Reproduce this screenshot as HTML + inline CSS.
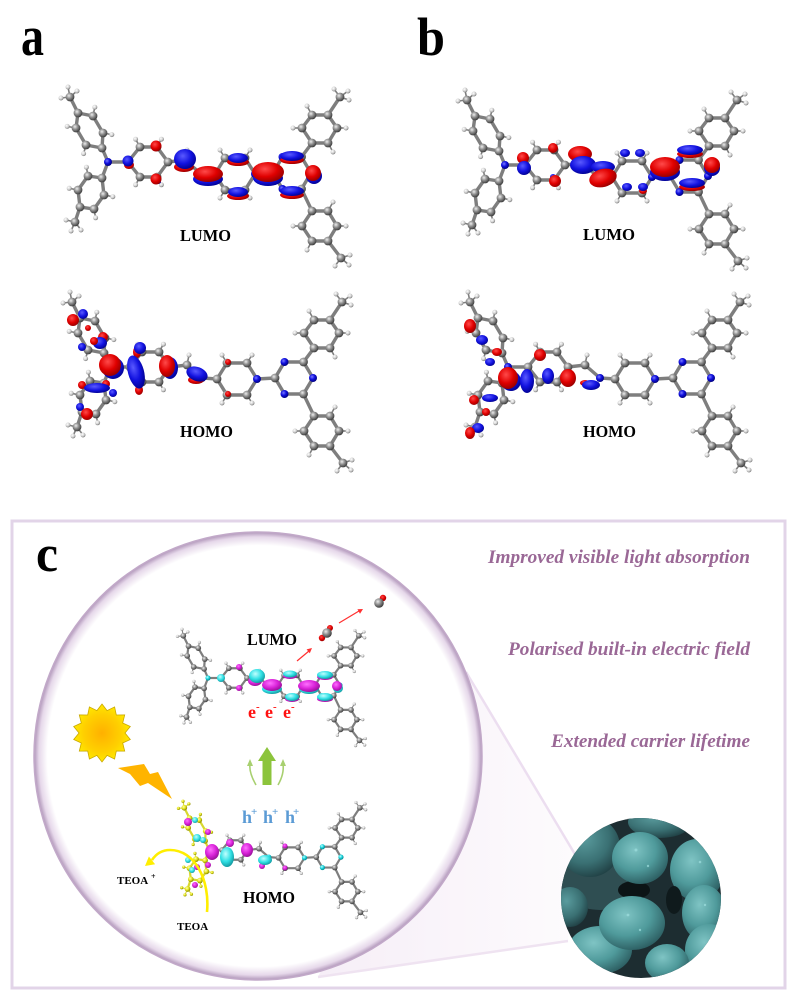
<!DOCTYPE html>
<html><head><meta charset="utf-8"><style>
html,body{margin:0;padding:0;background:#fff;}
svg{display:block;}
text{font-family:"Liberation Serif",serif;}
</style></head><body>
<svg width="800" height="1001" viewBox="0 0 800 1001" xmlns="http://www.w3.org/2000/svg">
<defs>
<radialGradient id="gC" cx="38%" cy="35%" r="65%"><stop offset="0" stop-color="#eeeeee"/><stop offset="0.45" stop-color="#959595"/><stop offset="1" stop-color="#3e3e3e"/></radialGradient>
<radialGradient id="gH" cx="38%" cy="35%" r="65%"><stop offset="0" stop-color="#fff"/><stop offset="0.6" stop-color="#d0d0d0"/><stop offset="1" stop-color="#808080"/></radialGradient>
<radialGradient id="gN" cx="38%" cy="35%" r="65%"><stop offset="0" stop-color="#7a7aff"/><stop offset="0.5" stop-color="#1010e0"/><stop offset="1" stop-color="#000080"/></radialGradient>
<radialGradient id="gNc" cx="38%" cy="35%" r="65%"><stop offset="0" stop-color="#c0ffff"/><stop offset="0.5" stop-color="#20d8e0"/><stop offset="1" stop-color="#008890"/></radialGradient>
<radialGradient id="gY" cx="38%" cy="35%" r="65%"><stop offset="0" stop-color="#ffffb0"/><stop offset="0.5" stop-color="#e6e620"/><stop offset="1" stop-color="#8a8a00"/></radialGradient>
<radialGradient id="gR" cx="40%" cy="35%" r="70%"><stop offset="0" stop-color="#ff4a4a"/><stop offset="0.55" stop-color="#e00000"/><stop offset="1" stop-color="#900000"/></radialGradient>
<radialGradient id="gB" cx="40%" cy="35%" r="70%"><stop offset="0" stop-color="#5a5aff"/><stop offset="0.55" stop-color="#1212e0"/><stop offset="1" stop-color="#00008a"/></radialGradient>
<radialGradient id="gM" cx="40%" cy="35%" r="70%"><stop offset="0" stop-color="#ff70ff"/><stop offset="0.55" stop-color="#d822d8"/><stop offset="1" stop-color="#901090"/></radialGradient>
<radialGradient id="gCy" cx="40%" cy="35%" r="70%"><stop offset="0" stop-color="#c0ffff"/><stop offset="0.55" stop-color="#30e0e4"/><stop offset="1" stop-color="#109098"/></radialGradient>
<radialGradient id="gSun" cx="50%" cy="50%" r="55%"><stop offset="0" stop-color="#ffb000"/><stop offset="0.6" stop-color="#ffd000"/><stop offset="1" stop-color="#fff000"/></radialGradient>
<radialGradient id="rim" cx="50%" cy="50%" r="50%"><stop offset="0" stop-color="#fff"/><stop offset="0.94" stop-color="#fff"/><stop offset="0.978" stop-color="#e6d8ea"/><stop offset="1" stop-color="#b096b9"/></radialGradient>
<radialGradient id="gSph" cx="40%" cy="35%" r="70%"><stop offset="0" stop-color="#7fc4c4"/><stop offset="0.55" stop-color="#4f9a9b"/><stop offset="1" stop-color="#2a5a5e"/></radialGradient>
<radialGradient id="gSphD" cx="40%" cy="35%" r="70%"><stop offset="0" stop-color="#5a9c9e"/><stop offset="0.6" stop-color="#3a7073"/><stop offset="1" stop-color="#1f3e42"/></radialGradient>
<linearGradient id="wedge" x1="0" y1="0" x2="1" y2="0"><stop offset="0" stop-color="#f6eef7"/><stop offset="1" stop-color="#fdfbfd"/></linearGradient>
<clipPath id="semclip"><circle cx="641" cy="898" r="80"/></clipPath>

<g id="dB" fill="none">
<line x1="0" y1="0" x2="-6" y2="-14"/>
<polygon points="-6,-14 -22,-17 -32,-34 -30,-49 -15,-46 -5,-29"/>
<line x1="-30" y1="-49" x2="-38" y2="-65"/>
<line x1="0" y1="0" x2="-6" y2="16"/>
<polygon points="-6,16 -20,14 -30,28 -28,45 -14,47 -4,33"/>
<line x1="-28" y1="45" x2="-33" y2="60"/>
<g stroke-width="1.6">
<line x1="-22" y1="-17" x2="-24.4" y2="-8.4"/><line x1="-32" y1="-34" x2="-40.8" y2="-35.6"/>
<line x1="-15" y1="-46" x2="-13.2" y2="-54.8"/><line x1="-5" y1="-29" x2="3.8" y2="-27.4"/>
<line x1="-38" y1="-65" x2="-47" y2="-64"/><line x1="-38" y1="-65" x2="-40" y2="-75"/><line x1="-38" y1="-65" x2="-31" y2="-71"/>
<line x1="-20" y1="14" x2="-21.6" y2="5.2"/><line x1="-30" y1="28" x2="-38.8" y2="26.3"/>
<line x1="-14" y1="47" x2="-12.4" y2="55.8"/><line x1="-4" y1="33" x2="4.8" y2="34.7"/>
<line x1="-33" y1="60" x2="-42" y2="58"/><line x1="-33" y1="60" x2="-37" y2="69"/><line x1="-33" y1="60" x2="-27" y2="68"/>
</g>
</g>
<g id="dC" stroke="none">
<circle cx="-6" cy="-14" r="4.4"/><circle cx="-22" cy="-17" r="4.4"/><circle cx="-32" cy="-34" r="4.4"/><circle cx="-30" cy="-49" r="4.4"/><circle cx="-15" cy="-46" r="4.4"/><circle cx="-5" cy="-29" r="4.4"/><circle cx="-38" cy="-65" r="4.4"/>
<circle cx="-6" cy="16" r="4.4"/><circle cx="-20" cy="14" r="4.4"/><circle cx="-30" cy="28" r="4.4"/><circle cx="-28" cy="45" r="4.4"/><circle cx="-14" cy="47" r="4.4"/><circle cx="-4" cy="33" r="4.4"/><circle cx="-33" cy="60" r="4.4"/>
</g>
<g id="dH" stroke="none">
<circle cx="-24.4" cy="-8.4" r="2.5"/><circle cx="-40.8" cy="-35.6" r="2.5"/><circle cx="-13.2" cy="-54.8" r="2.5"/><circle cx="3.8" cy="-27.4" r="2.5"/>
<circle cx="-47" cy="-64" r="2.5"/><circle cx="-40" cy="-75" r="2.5"/><circle cx="-31" cy="-71" r="2.5"/>
<circle cx="-21.6" cy="5.2" r="2.5"/><circle cx="-38.8" cy="26.3" r="2.5"/><circle cx="-12.4" cy="55.8" r="2.5"/><circle cx="4.8" cy="34.7" r="2.5"/>
<circle cx="-42" cy="58" r="2.5"/><circle cx="-37" cy="69" r="2.5"/><circle cx="-27" cy="68" r="2.5"/>
</g>

<g id="aB" fill="none">
<line x1="0" y1="0" x2="20" y2="0"/>
<polygon points="20,0 32,-15 49,-15 60,0 49,15 32,15"/>
<polyline points="60,0 77,-2 92,11 107,12"/>
<polygon points="107,12 117,-4 137,-4 147,12 137,28 117,28"/>
<line x1="147" y1="12" x2="165" y2="11"/>
<polygon points="165,11 174.5,-5 193.5,-5 203,11 193.5,27 174.5,27"/>
<line x1="193.5" y1="-5" x2="204" y2="-19"/>
<polygon points="194,-34 204,-47 220,-47 229,-34 220,-19 204,-19"/>
<line x1="220" y1="-47" x2="232" y2="-65"/>
<line x1="193.5" y1="27" x2="204" y2="49"/>
<polygon points="194,64 204,49 220,49 229,64 220,79 204,79"/>
<line x1="220" y1="79" x2="233" y2="96"/>
<g stroke-width="1.6">
<line x1="32" y1="-15" x2="27.6" y2="-22.8"/><line x1="49" y1="-15" x2="53.4" y2="-22.8"/><line x1="49" y1="15" x2="53.4" y2="22.8"/><line x1="32" y1="15" x2="27.6" y2="22.8"/>
<line x1="77" y1="-2" x2="79" y2="-12"/>
<line x1="117" y1="-4" x2="112" y2="-12"/><line x1="137" y1="-4" x2="142" y2="-12"/><line x1="137" y1="28" x2="142" y2="36"/><line x1="117" y1="28" x2="112" y2="36"/>
<line x1="194" y1="-34" x2="185" y2="-34"/><line x1="204" y1="-47" x2="199" y2="-56"/><line x1="229" y1="-34" x2="238" y2="-34"/><line x1="220" y1="-19" x2="225" y2="-10"/>
<line x1="232" y1="-65" x2="226" y2="-73"/><line x1="232" y1="-65" x2="240" y2="-71"/><line x1="232" y1="-65" x2="241" y2="-62"/>
<line x1="194" y1="64" x2="185" y2="64"/><line x1="220" y1="49" x2="225" y2="40"/><line x1="229" y1="64" x2="238" y2="64"/><line x1="204" y1="79" x2="199" y2="88"/>
<line x1="233" y1="96" x2="227" y2="104"/><line x1="233" y1="96" x2="241" y2="103"/><line x1="233" y1="96" x2="242" y2="93"/>
</g>
</g>
<g id="aC" stroke="none">
<circle cx="20" cy="0" r="4.4"/><circle cx="32" cy="-15" r="4.4"/><circle cx="49" cy="-15" r="4.4"/><circle cx="60" cy="0" r="4.4"/><circle cx="49" cy="15" r="4.4"/><circle cx="32" cy="15" r="4.4"/>
<circle cx="77" cy="-2" r="4.4"/>
<circle cx="107" cy="12" r="4.4"/><circle cx="117" cy="-4" r="4.4"/><circle cx="137" cy="-4" r="4.4"/><circle cx="137" cy="28" r="4.4"/><circle cx="117" cy="28" r="4.4"/>
<circle cx="165" cy="11" r="4.4"/><circle cx="193.5" cy="-5" r="4.4"/><circle cx="193.5" cy="27" r="4.4"/>
<circle cx="194" cy="-34" r="4.4"/><circle cx="204" cy="-47" r="4.4"/><circle cx="220" cy="-47" r="4.4"/><circle cx="229" cy="-34" r="4.4"/><circle cx="220" cy="-19" r="4.4"/><circle cx="204" cy="-19" r="4.4"/><circle cx="232" cy="-65" r="4.4"/>
<circle cx="194" cy="64" r="4.4"/><circle cx="204" cy="49" r="4.4"/><circle cx="220" cy="49" r="4.4"/><circle cx="229" cy="64" r="4.4"/><circle cx="220" cy="79" r="4.4"/><circle cx="204" cy="79" r="4.4"/><circle cx="233" cy="96" r="4.4"/>
</g>
<g id="aH" stroke="none">
<circle cx="27.6" cy="-22.8" r="2.5"/><circle cx="53.4" cy="-22.8" r="2.5"/><circle cx="53.4" cy="22.8" r="2.5"/><circle cx="27.6" cy="22.8" r="2.5"/>
<circle cx="79" cy="-12" r="2.5"/>
<circle cx="112" cy="-12" r="2.5"/><circle cx="142" cy="-12" r="2.5"/><circle cx="142" cy="36" r="2.5"/><circle cx="112" cy="36" r="2.5"/>
<circle cx="185" cy="-34" r="2.5"/><circle cx="199" cy="-56" r="2.5"/><circle cx="238" cy="-34" r="2.5"/><circle cx="225" cy="-10" r="2.5"/>
<circle cx="226" cy="-73" r="2.5"/><circle cx="240" cy="-71" r="2.5"/><circle cx="241" cy="-62" r="2.5"/>
<circle cx="185" cy="64" r="2.5"/><circle cx="225" cy="40" r="2.5"/><circle cx="238" cy="64" r="2.5"/><circle cx="199" cy="88" r="2.5"/>
<circle cx="227" cy="104" r="2.5"/><circle cx="241" cy="103" r="2.5"/><circle cx="242" cy="93" r="2.5"/>
</g>
<g id="nA" stroke="none">
<circle cx="0" cy="0" r="4"/><circle cx="92" cy="11" r="4"/><circle cx="147" cy="12" r="4"/>
<circle cx="174.5" cy="-5" r="4"/><circle cx="203" cy="11" r="4"/><circle cx="174.5" cy="27" r="4"/>
</g>
<g id="molStd">
<use href="#dB" stroke="#7e7e7e" stroke-width="3.4"/>
<use href="#aB" stroke="#7e7e7e" stroke-width="3.4"/>
<use href="#dH" fill="url(#gH)"/><use href="#aH" fill="url(#gH)"/>
<use href="#dC" fill="url(#gC)"/><use href="#aC" fill="url(#gC)"/>
</g>
</defs>

<rect width="800" height="1001" fill="#fff"/>

<text x="21" y="55" font-size="56" font-weight="bold" textLength="23" lengthAdjust="spacingAndGlyphs">a</text>
<text x="417" y="55" font-size="54" font-weight="bold" textLength="28" lengthAdjust="spacingAndGlyphs">b</text>

<!-- Panel a LUMO -->
<g transform="translate(108,162)"><use href="#molStd"/><use href="#nA" fill="url(#gN)"/></g>
<g>
<ellipse cx="129" cy="165" rx="5" ry="4" fill="url(#gR)"/><ellipse cx="128" cy="161" rx="5.5" ry="5.5" fill="url(#gB)"/>
<circle cx="156" cy="146" r="5.5" fill="url(#gR)"/><ellipse cx="158" cy="182" rx="3" ry="2" fill="url(#gB)"/><circle cx="156" cy="179" r="5.5" fill="url(#gR)"/>
<ellipse cx="184" cy="167" rx="10" ry="5" fill="url(#gR)"/><ellipse cx="185" cy="159" rx="11" ry="10" fill="url(#gB)"/>
<ellipse cx="208" cy="179" rx="15" ry="7" fill="url(#gB)"/><ellipse cx="208" cy="174" rx="15" ry="8" fill="url(#gR)"/>
<ellipse cx="238" cy="162" rx="11" ry="4" fill="url(#gR)"/><ellipse cx="238" cy="158" rx="10" ry="5" fill="url(#gB)"/>
<ellipse cx="238" cy="196" rx="11" ry="4" fill="url(#gR)"/><ellipse cx="238" cy="192" rx="10" ry="5" fill="url(#gB)"/>
<ellipse cx="268" cy="178" rx="15" ry="8" fill="url(#gB)"/><ellipse cx="268" cy="172" rx="16" ry="10" fill="url(#gR)"/>
<ellipse cx="292" cy="160" rx="12" ry="4" fill="url(#gR)"/><ellipse cx="292" cy="156" rx="12" ry="5" fill="url(#gB)"/>
<ellipse cx="292" cy="195" rx="12" ry="4" fill="url(#gR)"/><ellipse cx="292" cy="191" rx="12" ry="5" fill="url(#gB)"/>
<ellipse cx="314" cy="176" rx="8" ry="8" fill="url(#gB)"/><ellipse cx="313" cy="173" rx="8" ry="8" fill="url(#gR)"/>
</g>
<text x="180" y="241" font-size="17" font-weight="bold" textLength="51" lengthAdjust="spacingAndGlyphs">LUMO</text>

<!-- Panel a HOMO -->
<g transform="translate(110,367)"><use href="#molStd"/><use href="#nA" fill="url(#gN)"/></g>
<g>
<ellipse cx="113" cy="368" rx="11" ry="11" fill="url(#gB)"/><ellipse cx="110" cy="365" rx="11" ry="11" fill="url(#gR)"/>
<ellipse cx="137" cy="352" rx="4" ry="6" fill="url(#gR)"/><ellipse cx="139" cy="390" rx="4" ry="5" fill="url(#gR)"/>
<ellipse cx="136" cy="372" rx="8" ry="17" transform="rotate(-15 136 372)" fill="url(#gB)"/>
<ellipse cx="140" cy="348" rx="6" ry="6" fill="url(#gB)"/>
<ellipse cx="170" cy="368" rx="8" ry="11" fill="url(#gB)"/><ellipse cx="167" cy="366" rx="8" ry="11" fill="url(#gR)"/>
<ellipse cx="196" cy="380" rx="8" ry="4" fill="url(#gR)"/><ellipse cx="197" cy="374" rx="11" ry="7" transform="rotate(20 197 374)" fill="url(#gB)"/>
<ellipse cx="83" cy="314" rx="5" ry="5" fill="url(#gB)"/><ellipse cx="73" cy="320" rx="6" ry="6" fill="url(#gR)"/>
<ellipse cx="103" cy="337" rx="5" ry="5" fill="url(#gR)"/><ellipse cx="100" cy="343" rx="7" ry="6" fill="url(#gB)"/>
<ellipse cx="82" cy="347" rx="4" ry="4" fill="url(#gB)"/><ellipse cx="94" cy="341" rx="4" ry="4" fill="url(#gR)"/><ellipse cx="88" cy="328" rx="3" ry="3" fill="url(#gR)"/>
<ellipse cx="82" cy="385" rx="4" ry="4" fill="url(#gR)"/><ellipse cx="106" cy="384" rx="4" ry="4" fill="url(#gR)"/>
<ellipse cx="97" cy="388" rx="13" ry="5" fill="url(#gB)"/><ellipse cx="113" cy="393" rx="4" ry="4" fill="url(#gB)"/>
<ellipse cx="80" cy="407" rx="4" ry="4" fill="url(#gB)"/><ellipse cx="87" cy="414" rx="6" ry="6" fill="url(#gR)"/>
<circle cx="228" cy="362" r="3" fill="url(#gR)"/><circle cx="228" cy="394" r="3" fill="url(#gR)"/>
</g>
<text x="180" y="437" font-size="17" font-weight="bold" textLength="53" lengthAdjust="spacingAndGlyphs">HOMO</text>

<!-- Panel b LUMO -->
<g transform="translate(505,165)"><use href="#molStd"/><use href="#nA" fill="url(#gN)"/></g>
<g>
<ellipse cx="523" cy="158" rx="6" ry="6" fill="url(#gR)"/><ellipse cx="524" cy="168" rx="7" ry="7" fill="url(#gB)"/>
<ellipse cx="553" cy="148" rx="5" ry="5" fill="url(#gR)"/><ellipse cx="553" cy="177" rx="3" ry="3" fill="url(#gB)"/><ellipse cx="555" cy="181" rx="6" ry="6" fill="url(#gR)"/>
<ellipse cx="580" cy="154" rx="12" ry="8" fill="url(#gR)"/><ellipse cx="583" cy="165" rx="13" ry="9" fill="url(#gB)"/>
<ellipse cx="603" cy="167" rx="12" ry="6" fill="url(#gB)"/><ellipse cx="603" cy="178" rx="14" ry="9" transform="rotate(-15 603 178)" fill="url(#gR)"/>
<ellipse cx="625" cy="153" rx="5" ry="4" fill="url(#gB)"/><ellipse cx="640" cy="153" rx="5" ry="4" fill="url(#gB)"/>
<ellipse cx="643" cy="191" rx="4" ry="3" fill="url(#gR)"/><ellipse cx="627" cy="187" rx="5" ry="4" fill="url(#gB)"/><ellipse cx="643" cy="187" rx="5" ry="4" fill="url(#gB)"/>
<ellipse cx="665" cy="172" rx="15" ry="9" fill="url(#gB)"/><ellipse cx="665" cy="167" rx="15" ry="10" fill="url(#gR)"/>
<ellipse cx="690" cy="154" rx="13" ry="4" fill="url(#gR)"/><ellipse cx="690" cy="150" rx="13" ry="5" fill="url(#gB)"/>
<ellipse cx="692" cy="187" rx="13" ry="4" fill="url(#gR)"/><ellipse cx="692" cy="183" rx="13" ry="5" fill="url(#gB)"/>
<ellipse cx="712" cy="168" rx="8" ry="8" fill="url(#gB)"/><ellipse cx="712" cy="165" rx="8" ry="8" fill="url(#gR)"/>
</g>
<text x="583" y="240" font-size="17" font-weight="bold" textLength="52" lengthAdjust="spacingAndGlyphs">LUMO</text>

<!-- Panel b HOMO -->
<g transform="translate(508,367)"><use href="#molStd"/><use href="#nA" fill="url(#gN)"/></g>
<g>
<ellipse cx="470" cy="326" rx="6" ry="7" fill="url(#gR)"/><ellipse cx="482" cy="340" rx="6" ry="5" fill="url(#gB)"/>
<ellipse cx="497" cy="352" rx="5" ry="4" fill="url(#gR)"/><ellipse cx="490" cy="362" rx="5" ry="4" fill="url(#gB)"/>
<ellipse cx="511" cy="381" rx="10" ry="10" fill="url(#gB)"/><ellipse cx="508" cy="378" rx="10" ry="11" fill="url(#gR)"/>
<ellipse cx="527" cy="381" rx="7" ry="12" fill="url(#gB)"/><ellipse cx="540" cy="355" rx="6" ry="6" fill="url(#gR)"/>
<ellipse cx="548" cy="376" rx="6" ry="8" fill="url(#gB)"/><ellipse cx="568" cy="378" rx="8" ry="9" fill="url(#gR)"/>
<ellipse cx="585" cy="383" rx="5" ry="3" fill="url(#gR)"/><ellipse cx="591" cy="385" rx="9" ry="5" fill="url(#gB)"/>
<ellipse cx="474" cy="400" rx="5" ry="5" fill="url(#gR)"/><ellipse cx="490" cy="398" rx="8" ry="4" fill="url(#gB)"/>
<ellipse cx="486" cy="412" rx="4" ry="4" fill="url(#gR)"/><ellipse cx="478" cy="428" rx="6" ry="5" fill="url(#gB)"/><ellipse cx="470" cy="433" rx="5" ry="6" fill="url(#gR)"/>
</g>
<text x="583" y="437" font-size="17" font-weight="bold" textLength="53" lengthAdjust="spacingAndGlyphs">HOMO</text>

<!-- Panel c frame -->
<rect x="12" y="521" width="773" height="467" fill="#fff" stroke="#e2d4e8" stroke-width="3"/>
<text x="36" y="571" font-size="52" font-weight="bold" textLength="22" lengthAdjust="spacingAndGlyphs">c</text>

<!-- zoom wedge -->
<polygon points="466,672 576,856 568,941 318,977" fill="url(#wedge)"/>
<line x1="466" y1="672" x2="576" y2="856" stroke="#ecdef0" stroke-width="2.5"/>
<line x1="318" y1="977" x2="568" y2="941" stroke="#efe3f1" stroke-width="2.5"/>

<!-- big circle -->
<circle cx="258" cy="756" r="224" fill="url(#rim)" stroke="#c2a9c9" stroke-width="1.5"/>

<g fill="#9a6896" font-weight="bold" font-style="italic" font-size="19">
<text x="488" y="563" textLength="262" lengthAdjust="spacingAndGlyphs">Improved visible light absorption</text>
<text x="508" y="655" textLength="242" lengthAdjust="spacingAndGlyphs">Polarised built-in electric field</text>
<text x="551" y="747" textLength="199" lengthAdjust="spacingAndGlyphs">Extended carrier lifetime</text>
</g>

<!-- SEM image -->
<g clip-path="url(#semclip)">
<rect x="555" y="812" width="175" height="175" fill="#1d2d31"/>
<ellipse cx="600" cy="880" rx="40" ry="30" fill="#2f4e52"/>
<ellipse cx="590" cy="847" rx="30" ry="30" fill="url(#gSphD)"/>
<ellipse cx="660" cy="822" rx="32" ry="16" fill="url(#gSphD)"/>
<ellipse cx="697" cy="870" rx="27" ry="31" fill="url(#gSph)"/>
<ellipse cx="704" cy="913" rx="22" ry="28" fill="url(#gSph)"/>
<ellipse cx="570" cy="907" rx="18" ry="20" fill="url(#gSphD)"/>
<ellipse cx="634" cy="890" rx="16" ry="9" fill="#0c1416"/>
<ellipse cx="674" cy="900" rx="8" ry="14" fill="#0f1a1c"/>
<ellipse cx="600" cy="950" rx="32" ry="24" fill="url(#gSph)"/>
<ellipse cx="709" cy="950" rx="24" ry="26" fill="url(#gSph)"/>
<ellipse cx="640" cy="858" rx="28" ry="26" fill="url(#gSph)"/>
<ellipse cx="632" cy="923" rx="33" ry="27" fill="url(#gSph)"/>
<ellipse cx="667" cy="963" rx="22" ry="19" fill="url(#gSph)"/>
<g fill="#9fdede" opacity="0.7">
<circle cx="636" cy="850" r="1.5"/><circle cx="648" cy="866" r="1.2"/><circle cx="628" cy="915" r="1.4"/><circle cx="640" cy="930" r="1.2"/><circle cx="700" cy="862" r="1.3"/><circle cx="705" cy="905" r="1.2"/>
</g>
</g>

<!-- Sun -->
<polygon points="102,704 107.1,710.6 114.6,706.9 116.3,715 124.7,714.9 122.7,723 130.3,726.5 125,733 130.3,739.5 122.7,743 124.7,751.1 116.3,751 114.6,759.1 107.1,755.4 102,762 96.9,755.4 89.4,759.1 87.7,751 79.3,751.1 81.3,743 73.7,739.5 79,733 73.7,726.5 81.3,723 79.3,714.9 87.7,715 89.4,706.9 96.9,710.6" fill="url(#gSun)" stroke="#c9a800" stroke-width="0.8"/>
<polygon points="118,768 144,764 150,774 158,772 172,799 148,783 140,786 130,774" fill="#ffb400"/>

<!-- Panel c LUMO -->
<g transform="translate(208,678) scale(0.65)">
<use href="#molStd"/><use href="#nA" fill="url(#gNc)"/>
</g>
<g>
<circle cx="221" cy="678" r="4" fill="url(#gCy)"/>
<circle cx="239" cy="667" r="3" fill="url(#gM)"/><circle cx="239" cy="688" r="3" fill="url(#gM)"/>
<ellipse cx="255" cy="681" rx="7" ry="5" fill="url(#gM)"/><ellipse cx="257" cy="676" rx="8" ry="7" fill="url(#gCy)"/>
<ellipse cx="272" cy="689" rx="10" ry="5" fill="url(#gCy)"/><ellipse cx="272" cy="685" rx="10" ry="6" fill="url(#gM)"/>
<ellipse cx="290" cy="676" rx="7" ry="3" fill="url(#gM)"/><ellipse cx="290" cy="674" rx="7" ry="3.5" fill="url(#gCy)"/>
<ellipse cx="292" cy="699" rx="7" ry="3" fill="url(#gM)"/><ellipse cx="292" cy="697" rx="7" ry="4" fill="url(#gCy)"/>
<ellipse cx="309" cy="689" rx="10" ry="5" fill="url(#gCy)"/><ellipse cx="309" cy="686" rx="11" ry="6" fill="url(#gM)"/>
<ellipse cx="325" cy="677" rx="8" ry="3" fill="url(#gM)"/><ellipse cx="325" cy="675" rx="8" ry="4" fill="url(#gCy)"/>
<ellipse cx="325" cy="699" rx="8" ry="3" fill="url(#gM)"/><ellipse cx="325" cy="697" rx="8" ry="4" fill="url(#gCy)"/>
<ellipse cx="338" cy="688" rx="5" ry="5" fill="url(#gCy)"/><ellipse cx="337" cy="686" rx="5" ry="5" fill="url(#gM)"/>
</g>
<text x="247" y="645" font-size="17" font-weight="bold" textLength="50" lengthAdjust="spacingAndGlyphs">LUMO</text>
<g fill="#ff1010" font-weight="bold">
<text x="248" y="718" font-size="18">e</text><text x="256" y="710" font-size="11">-</text>
<text x="265" y="718" font-size="18">e</text><text x="273" y="710" font-size="11">-</text>
<text x="283" y="718" font-size="18">e</text><text x="291" y="710" font-size="11">-</text>
</g>

<circle cx="322" cy="638" r="3.2" fill="url(#gR)"/><circle cx="330" cy="628" r="3" fill="url(#gR)"/>
<circle cx="327" cy="633" r="4.8" fill="url(#gC)"/>
<circle cx="383" cy="598" r="3.2" fill="url(#gR)"/>
<circle cx="379" cy="603" r="4.8" fill="url(#gC)"/>
<g stroke="#ff3030" stroke-width="1.2"><line x1="297" y1="661" x2="309" y2="651"/><line x1="339" y1="623" x2="359" y2="611"/></g>
<polygon points="312,648 309.8,653.2 306.6,649.4" fill="#ff3030"/>
<polygon points="363,609 360,613.7 357.4,609.3" fill="#ff3030"/>

<rect x="262.5" y="759" width="9" height="26" fill="#8cc43c"/>
<polygon points="258,761 267,747 276,761" fill="#8cc43c"/>
<g fill="none" stroke="#a8d070" stroke-width="1.6">
<path d="M256,785 C252,778 249,771 250,764"/>
<path d="M278,785 C282,778 284,771 283,764"/>
</g>
<polygon points="247,766 250,759 253,766" fill="#a8d070"/>
<polygon points="280,766 283,759 286,766" fill="#a8d070"/>

<!-- Panel c HOMO -->
<g transform="translate(209,850) scale(0.65)">
<use href="#aB" stroke="#7e7e7e" stroke-width="3.4"/>
<use href="#dB" stroke="#d8d830" stroke-width="3.4"/>
<use href="#aH" fill="url(#gH)"/><use href="#dH" fill="url(#gY)"/>
<use href="#aC" fill="url(#gC)"/><use href="#dC" fill="url(#gY)"/>
<use href="#nA" fill="url(#gNc)"/>
</g>
<g>
<circle cx="188" cy="822" r="4" fill="url(#gM)"/><circle cx="195" cy="820" r="3" fill="url(#gCy)"/>
<circle cx="197" cy="838" r="4" fill="url(#gCy)"/><circle cx="208" cy="832" r="3" fill="url(#gM)"/><circle cx="203" cy="840" r="3" fill="url(#gCy)"/>
<circle cx="188" cy="860" r="3" fill="url(#gCy)"/><circle cx="197" cy="867" r="3" fill="url(#gM)"/><circle cx="192" cy="870" r="3" fill="url(#gCy)"/>
<circle cx="208" cy="865" r="3" fill="url(#gM)"/><circle cx="195" cy="885" r="3" fill="url(#gM)"/>
<ellipse cx="212" cy="852" rx="7" ry="8" fill="url(#gM)"/>
<ellipse cx="227" cy="857" rx="7" ry="10" fill="url(#gCy)"/><circle cx="230" cy="843" r="4" fill="url(#gM)"/>
<ellipse cx="247" cy="850" rx="6" ry="7" fill="url(#gM)"/>
<ellipse cx="262" cy="866" rx="3" ry="3" fill="url(#gM)"/><ellipse cx="265" cy="860" rx="7" ry="5" fill="url(#gCy)"/>
<circle cx="285" cy="846" r="2.5" fill="url(#gM)"/><circle cx="285" cy="868" r="2.5" fill="url(#gM)"/>
</g>
<text x="243" y="903" font-size="17" font-weight="bold" textLength="52" lengthAdjust="spacingAndGlyphs">HOMO</text>
<g fill="#5b9bd5" font-weight="bold">
<text x="242" y="823" font-size="18">h</text><text x="251" y="815" font-size="11">+</text>
<text x="263" y="823" font-size="18">h</text><text x="272" y="815" font-size="11">+</text>
<text x="285" y="823" font-size="18">h</text><text x="293" y="815" font-size="11">+</text>
</g>

<path d="M207,912 C210,880 195,850 170,850 C162,850 156,854 152,860" fill="none" stroke="#ffee00" stroke-width="2.6"/>
<polygon points="145,866 155.1,864.3 148.9,856.5" fill="#ffee00"/>
<text x="117" y="884" font-size="11" font-weight="bold">TEOA</text><text x="151" y="879" font-size="8" font-weight="bold">+</text>
<text x="177" y="930" font-size="11" font-weight="bold">TEOA</text>
</svg>
</body></html>
